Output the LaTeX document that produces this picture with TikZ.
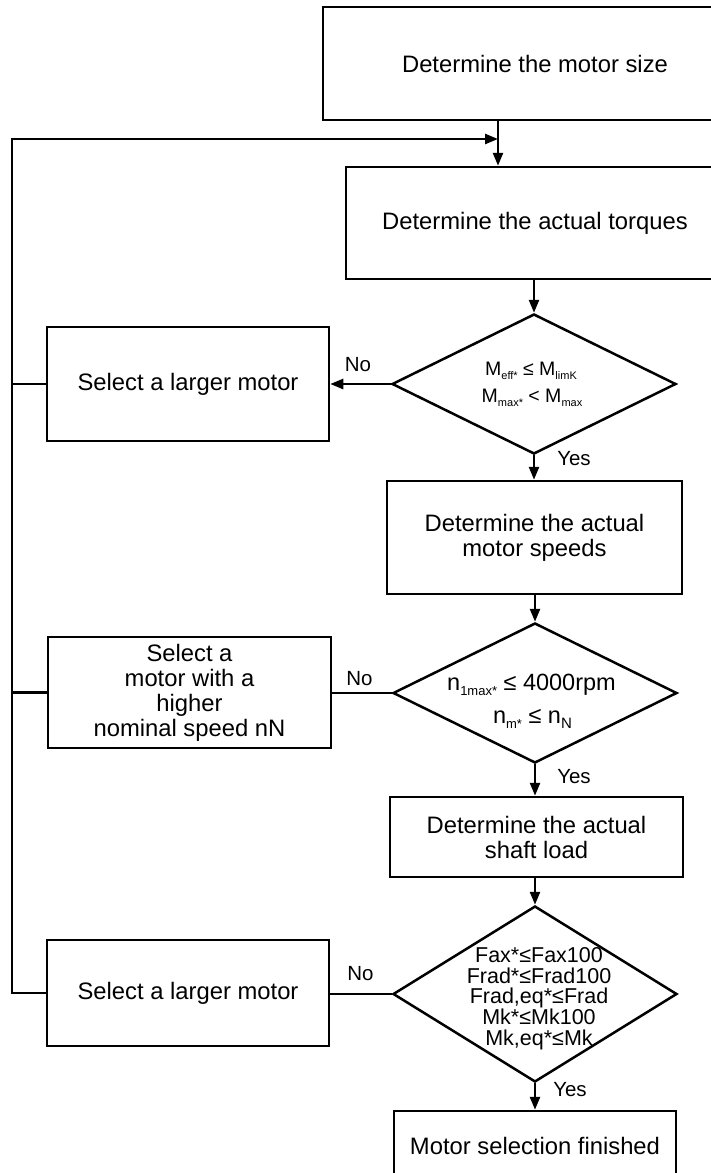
\documentclass[tikz,border=0pt]{standalone}
\usepackage{fontspec}
\setmainfont{Liberation Sans}
\usetikzlibrary{shapes.geometric,arrows.meta}
\newcommand{\lowsub}[2][11]{\raisebox{-0.22em}{\fontsize{#1}{#1}\selectfont #2}}
\begin{document}
\begin{tikzpicture}[x=1pt,y=-1pt,line width=2.5pt,
  box/.style={draw, rectangle, inner sep=0pt, align=center, font=\fontsize{23.8}{25}\selectfont},
  dia/.style={draw, diamond, inner sep=0pt, minimum width=284pt, minimum height=140pt},
  dA/.style={anchor=base, inner sep=0pt, font=\fontsize{19.5}{20}\selectfont},
  dB/.style={anchor=base, inner sep=0pt, font=\fontsize{23.5}{23.5}\selectfont},
  dC/.style={anchor=base, inner sep=0pt, font=\fontsize{21.5}{21.5}\selectfont},
  lbl/.style={inner sep=0pt, font=\fontsize{20.5}{22}\selectfont},
  arr/.style={-{Triangle[length=13pt,width=10pt]}}]
\useasboundingbox (0,0) rectangle (711,1173);
\clip (0,0) rectangle (711,1173);
% main column
\node[box, minimum width=424pt, minimum height=113pt] (b1) at (535,63.5) {Determine the motor size};
\node[box, minimum width=378pt, minimum height=112pt] (b2) at (535,223) {Determine the actual torques};
\node[dia] (d1) at (534,384) {};
\node[box, minimum width=295pt, minimum height=113pt] (b3) at (534.5,537.5) {Determine the actual\\motor speeds};
\node[dia] (d2) at (535,693) {};
\node[box, minimum width=293pt, minimum height=80pt] (b4) at (536.5,837) {Determine the actual\\shaft load};
\node[dia, minimum height=176pt] (d3) at (535,994) {};
\node[box, minimum width=282pt, minimum height=70pt] (b6) at (535,1146) {Motor selection finished};
% left column
\node[box, minimum width=282pt, minimum height=114pt] (s1) at (188,384) {Select a larger motor};
\node[box, minimum width=283pt, minimum height=111pt] (s2) at (189.5,692.5) {Select a\\motor with a\\higher\\nominal speed nN};
\node[box, minimum width=282pt, minimum height=106pt] (s3) at (188,993) {Select a larger motor};
% diamond texts
\node[dA] (d1a) at (531,375) {M\lowsub{eff*} ≤ M\lowsub{limK}};
\node[dA] (d1b) at (532,402) {M\lowsub{max*} < M\lowsub{max}};
\node[dB] (d2a) at (531.5,690) {n\lowsub[13]{1max*} ≤ 4000rpm};
\node[dB] (d2b) at (532.5,723) {n\lowsub[13]{m*} ≤ n\lowsub[15]{N}};
\node[dC] (d3a) at (539,962) {Fax*≤Fax100};
\node[dC] (d3b) at (539,983) {Frad*≤Frad100};
\node[dC] (d3c) at (539,1003) {Frad,eq*≤Frad};
\node[dC] (d3d) at (539,1024) {Mk*≤Mk100};
\node[dC] (d3e) at (539,1045) {Mk,eq*≤Mk};
% labels
\node[lbl] (no1) at (358,365) {No};
\node[lbl] (no2) at (359.5,679) {No};
\node[lbl] (no3) at (360.5,974) {No};
\node[lbl] (yes1) at (574,459) {Yes};
\node[lbl] (yes2) at (574,777) {Yes};
\node[lbl] (yes3) at (570,1090) {Yes};
% coordinates of the return loop
\coordinate (j) at (498,139);
\coordinate (top) at (12,139);
\coordinate (bot) at (12,993);
% connectors
\draw[arr] (b1.south -| j) -- (b2.north -| j);
\draw[arr] (b2.south -| d1.north) -- (d1.north);
\draw[arr] (d1.west) -- (d1.west -| s1.east);
\draw[arr] (d1.south) -- (d1.south |- b3.north);
\draw[arr] (b3.south -| d2.north) -- (d2.north);
\draw (d2.west) -- (d2.west -| s2.east);
\draw[arr] (d2.south) -- (d2.south |- b4.north);
\draw[arr] (b4.south -| d3.north) -- (d3.north);
\draw (d3.west) -- (d3.west -| s3.east);
\draw[arr] (d3.south) -- (d3.south |- b6.north);
\draw (s1.west) -- (s1.west -| top);
\draw (s2.west) -- (s2.west -| top);
\draw[arr] (s3.west) -- (bot) -- (top) -- (j);
\end{tikzpicture}
\end{document}
